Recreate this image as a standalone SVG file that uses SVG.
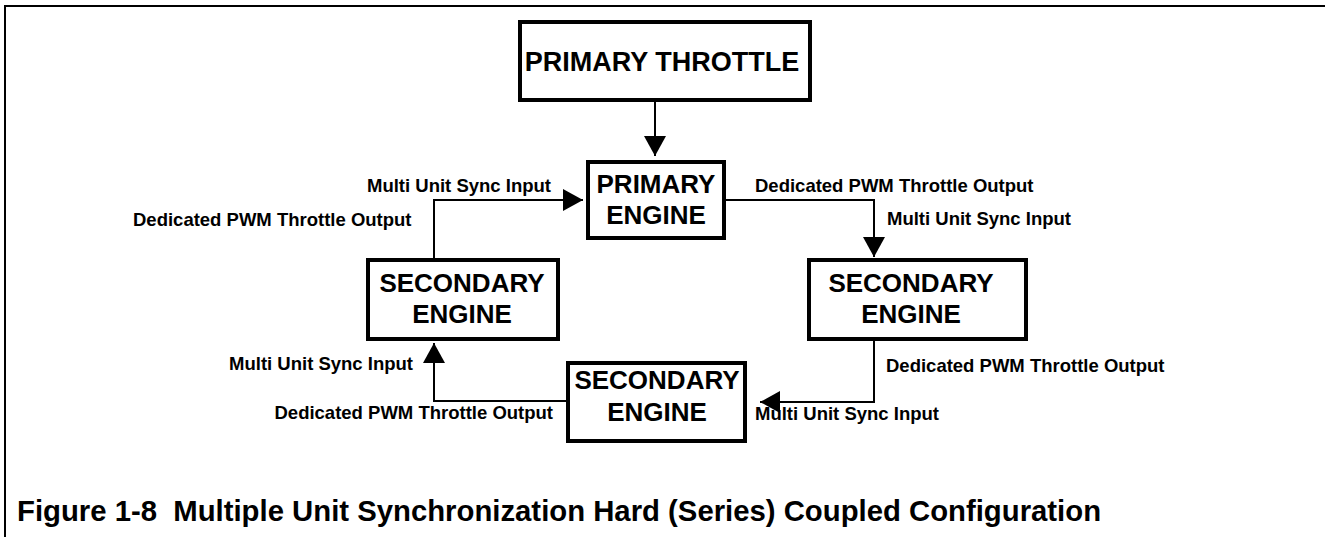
<svg xmlns="http://www.w3.org/2000/svg" width="1325" height="537" viewBox="0 0 1325 537">
<style>
.box{fill:#fff;stroke:#000;stroke-width:4}
.bt{font-family:"Liberation Sans",Arial,sans-serif;font-weight:bold;font-size:26px;text-anchor:middle;fill:#000}
.lbl{font-family:"Liberation Sans",Arial,sans-serif;font-weight:bold;font-size:18.5px;fill:#000}
.con{fill:none;stroke:#000;stroke-width:2}
.title{font-family:"Liberation Sans",Arial,sans-serif;font-weight:bold;font-size:29.3px;fill:#000}
</style>
<defs>
<marker id="ah" markerUnits="userSpaceOnUse" markerWidth="20" markerHeight="22" refX="20" refY="11" orient="auto">
<path d="M0,0 L20,11 L0,22 z" fill="#000"/>
</marker>
</defs>
<rect x="0" y="0" width="1325" height="537" fill="#fff"/>
<path d="M5,537 V6 H1325" fill="none" stroke="#000" stroke-width="2"/>
<g id="connectors">
<path class="con" d="M655,102 V156" marker-end="url(#ah)"/>
<path class="con" d="M726,200 H874 V257" marker-end="url(#ah)"/>
<path class="con" d="M874,341 V402 H760" marker-end="url(#ah)"/>
<path class="con" d="M566,401 H434 V343" marker-end="url(#ah)"/>
<path class="con" d="M434,258 V200 H583" marker-end="url(#ah)"/>
</g>
<g id="primary-throttle">
<rect class="box" x="520" y="22" width="290" height="78"/>
<text class="bt" x="662" y="71" style="font-size:27px">PRIMARY THROTTLE</text>
</g>
<g id="primary-engine">
<rect class="box" x="588" y="162" width="136" height="76"/>
<text class="bt" x="656" y="193">PRIMARY</text>
<text class="bt" x="656" y="224">ENGINE</text>
</g>
<g id="secondary-left">
<rect class="box" x="368" y="260" width="190" height="79"/>
<text class="bt" x="462" y="292">SECONDARY</text>
<text class="bt" x="462" y="323">ENGINE</text>
</g>
<g id="secondary-right">
<rect class="box" x="809" y="260" width="217" height="79"/>
<text class="bt" x="911" y="292">SECONDARY</text>
<text class="bt" x="911" y="323">ENGINE</text>
</g>
<g id="secondary-bottom">
<rect class="box" x="568" y="363" width="177" height="78"/>
<text class="bt" x="657" y="389">SECONDARY</text>
<text class="bt" x="657" y="421">ENGINE</text>
</g>
<g id="labels">
<text class="lbl" x="367" y="192">Multi Unit Sync Input</text>
<text class="lbl" x="133" y="226">Dedicated PWM Throttle Output</text>
<text class="lbl" x="755" y="192">Dedicated PWM Throttle Output</text>
<text class="lbl" x="887" y="225">Multi Unit Sync Input</text>
<text class="lbl" x="886" y="372">Dedicated PWM Throttle Output</text>
<text class="lbl" x="755" y="420">Multi Unit Sync Input</text>
<text class="lbl" x="413" y="370" text-anchor="end">Multi Unit Sync Input</text>
<text class="lbl" x="553" y="419" text-anchor="end">Dedicated PWM Throttle Output</text>
</g>
<text class="title" x="17" y="521" xml:space="preserve">Figure 1-8  Multiple Unit Synchronization Hard (Series) Coupled Configuration</text>
</svg>
